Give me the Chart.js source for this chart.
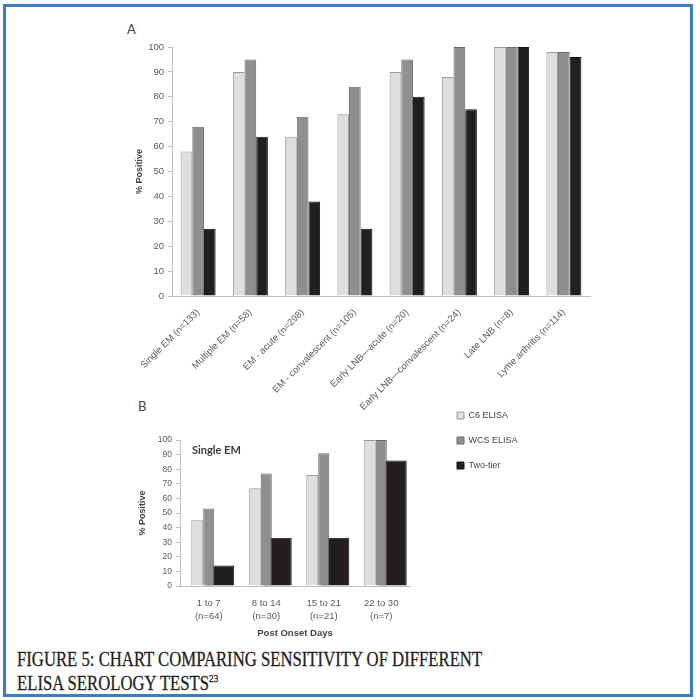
<!DOCTYPE html>
<html>
<head>
<meta charset="utf-8">
<script src="https://cdn.jsdelivr.net/npm/chart.js@4.4.0/dist/chart.umd.min.js"></script>
<style>
  body { margin: 0; width: 696px; height: 700px; background: #fff; position: relative; overflow: hidden; font-family: Lato, "Open Sans", sans-serif; }
  .frame { position: absolute; left: 3px; top: 4px; width: 684px; height: 687px; border: 3px solid #3b7cc4; }
  .panel { position: absolute; font-size: 13px; color: #444; }
  #chartA { position: absolute; left: 100px; top: 20px; }
  #chartB { position: absolute; left: 100px; top: 395px; }
  .caption { position: absolute; left: 17px; top: 647px; font-family: "Liberation Serif", "DejaVu Serif", serif; font-size: 20px; line-height: 24px; color: #231f20; white-space: nowrap; transform: scaleX(0.835); transform-origin: left top; -webkit-text-stroke: 0.3px #231f20; }
  .caption sup { font-size: 11px; vertical-align: 8px; line-height: 0; }
</style>
</head>
<body>
<div class="frame"></div>
<div class="panel" style="left:127px; top:21px;">A</div>
<div class="panel" style="left:138px; top:398px;">B</div>
<canvas id="chartA" width="500" height="390"></canvas>
<canvas id="chartB" width="421" height="248"></canvas>
<div class="caption">FIGURE 5: CHART COMPARING SENSITIVITY OF DIFFERENT<br>ELISA SEROLOGY TESTS<sup>23</sup></div>
<script>
// Panel A: sensitivity by patient group
const groupsA = ['Single EM (n=133)', 'Multiple EM (n=58)', 'EM - acute (n=298)', 'EM - convalescent (n=105)',
                 'Early LNB\u2014acute (n=20)', 'Early LNB\u2014convalescent (n=24)', 'Late LNB (n=8)', 'Lyme arthritis (n=114)'];
const c6A = [58, 90, 64, 73, 90, 88, 100, 98];
const wcsA = [68, 95, 72, 84, 95, 100, 100, 98];
const twoTierA = [27, 64, 38, 27, 80, 75, 100, 96];

// Panel B: single EM by days after onset
const daysB = ['1 to 7', '8 to 14', '15 to 21', '22 to 30'];
const countsB = ['(n=64)', '(n=30)', '(n=21)', '(n=7)'];
const c6B = [45, 67, 76, 100];
const wcsB = [53, 77, 91, 100];
const twoTierB = [14, 33, 33, 86];

const seriesNames = ['C6 ELISA', 'WCS ELISA', 'Two-tier'];
const panelBNote = 'Single EM';

const fills = ['#dededf', '#8f8f91', '#231f20'];
const edges = ['#9a9a9c', '#6a6a6c', '#151213'];
const axisGrey = '#bfbfbf';
const tickGrey = '#5a5a5a';
const titleGrey = '#444';

function makeSets(values, extra) {
    return values.map((vals, i) => Object.assign({
        label: seriesNames[i],
        data: vals,
        backgroundColor: fills[i],
        borderColor: edges[i],
        borderWidth: 1
    }, extra ? extra[i] : {}));
}

function yAxis(width, fontSize) {
    return {
        min: 0, max: 100,
        ticks: { stepSize: 10, color: tickGrey, font: { size: fontSize }, padding: 4 },
        grid: { drawOnChartArea: false, tickLength: 4, color: axisGrey },
        border: { color: axisGrey },
        title: { display: true, text: '% Positive', color: titleGrey, font: { size: 9, weight: 'bold' }, padding: { top: 4, bottom: 4 } },
        afterFit: s => { s.width = width; }
    };
}

new Chart(document.getElementById('chartA'), {
    type: 'bar',
    data: { labels: groupsA, datasets: makeSets([c6A, wcsA, twoTierA]) },
    options: {
        responsive: false,
        animation: false,
        layout: { padding: { left: 30, right: 10, top: 27, bottom: 0 } },
        datasets: { bar: { categoryPercentage: 0.67, barPercentage: 1 } },
        plugins: { legend: { display: false }, tooltip: { enabled: false } },
        scales: {
            x: {
                grid: { display: false },
                border: { color: axisGrey },
                ticks: { autoSkip: false, minRotation: 45, maxRotation: 45, padding: 3, color: tickGrey, font: { size: 9.5 } },
                afterFit: s => { s.height = 114; }
            },
            y: yAxis(42, 9.5)
        }
    }
});

// draws the small "Single EM" note inside panel B
const notePlugin = {
    id: 'note',
    afterDatasetsDraw(chart) {
        const { ctx, chartArea } = chart;
        ctx.save();
        ctx.font = 'bold 11px Lato, sans-serif';
        ctx.fillStyle = '#3a3a3a';
        ctx.textBaseline = 'middle';
        ctx.fillText(panelBNote, chartArea.left + 12, chartArea.top + 10);
        ctx.restore();
    }
};

new Chart(document.getElementById('chartB'), {
    type: 'bar',
    data: {
        labels: daysB.map((d, i) => [d, countsB[i]]),
        datasets: makeSets([c6B, wcsB, twoTierB], [{ barPercentage: 1.04 }, { barPercentage: 0.96 }, { barPercentage: 2.43 }])
    },
    options: {
        responsive: false,
        animation: false,
        layout: { padding: { left: 33, right: 0, top: 0, bottom: 0 } },
        datasets: { bar: { categoryPercentage: 0.6 } },
        plugins: {
            tooltip: { enabled: false },
            title: { display: true, text: '', fullSize: false, font: { size: 10, lineHeight: 1 }, padding: { top: 35, bottom: 0 } },
            legend: {
                position: 'right', align: 'start', maxWidth: 80,
                labels: { boxWidth: 7, boxHeight: 7, padding: 16, color: titleGrey, font: { size: 9 } }
            }
        },
        scales: {
            x: {
                grid: { display: false, drawTicks: false },
                border: { color: axisGrey },
                ticks: { padding: 10, color: tickGrey, font: { size: 9.5, lineHeight: 1.45 } },
                title: { display: true, text: 'Post Onset Days', color: titleGrey, font: { size: 9.5, weight: 'bold' }, padding: { top: 2, bottom: 4 } },
                afterFit: s => { s.height = 57; }
            },
            y: yAxis(47, 8.5),
            gap: {
                type: 'linear', position: 'right', display: true,
                grid: { display: false }, ticks: { display: false }, border: { display: false },
                afterFit: s => { s.width = 31; }
            }
        }
    },
    plugins: [notePlugin]
});
</script>
</body>
</html>
